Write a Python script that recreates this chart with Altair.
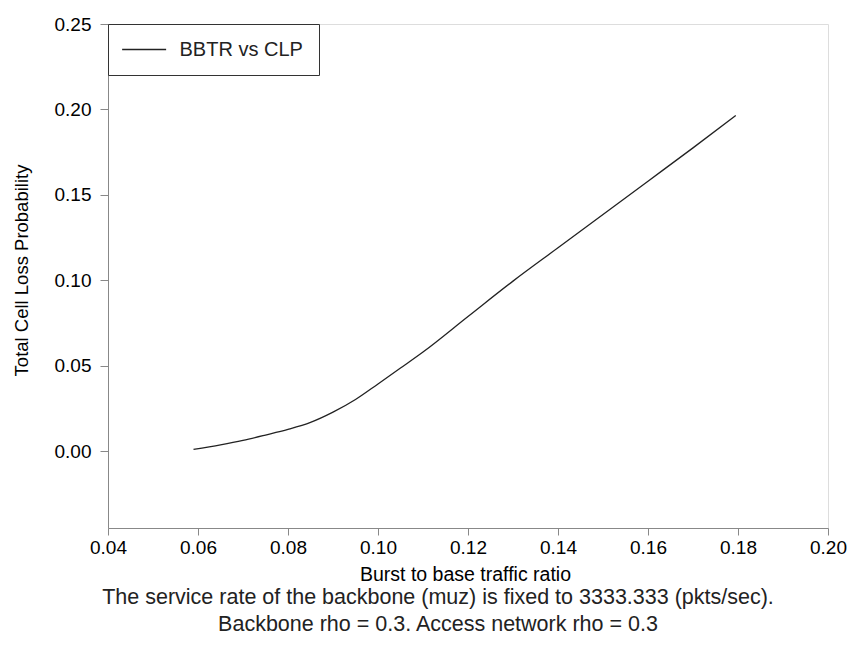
import altair as alt
import pandas as pd

# Burst-to-base traffic ratio and the resulting total cell loss probability
ratio = [0.059, 0.065, 0.070, 0.075, 0.080, 0.085, 0.090, 0.095, 0.100, 0.105,
         0.110, 0.120, 0.130, 0.140, 0.150, 0.160, 0.170, 0.1795]
clp = [0.0010, 0.0037, 0.0063, 0.0094, 0.0127, 0.0168, 0.0228, 0.0302, 0.0393, 0.0486,
       0.0580, 0.0788, 0.0995, 0.1190, 0.1385, 0.1580, 0.1775, 0.1965]
series_name = "BBTR vs CLP"

x_ticks = [0.04, 0.06, 0.08, 0.10, 0.12, 0.14, 0.16, 0.18, 0.20]
y_ticks = [0.00, 0.05, 0.10, 0.15, 0.20, 0.25]

caption = [
    "The service rate of the backbone (muz) is fixed to 3333.333 (pkts/sec).",
    "Backbone rho = 0.3. Access network rho = 0.3",
]

df = pd.DataFrame({"ratio": ratio, "clp": clp, "series": series_name})

FONT = "Liberation Sans"
INK = "#222222"

# Legend key: a short horizontal stroke drawn mostly to the right of the symbol
# anchor, so the entry row stays as tall as the label text only.
KEY_PATH = "M-1.55,0H4.45"

line = alt.Chart(df).mark_line(strokeWidth=1.3, interpolate="monotone").encode(
    x=alt.X(
        "ratio:Q",
        scale=alt.Scale(domain=[0.04, 0.20], nice=False, zero=False),
        axis=alt.Axis(
            title="Burst to base traffic ratio",
            values=x_ticks,
            format=".2f",
            grid=False,
            tickSize=7,
            labelPadding=3,
            labelFlush=False,
            labelFontSize=19,
            titleFontSize=19.5,
            titleFontWeight="normal",
            titleBaseline="alphabetic",
            titleY=52,
            titleX=357,
        ),
    ),
    y=alt.Y(
        "clp:Q",
        scale=alt.Scale(domain=[-0.045, 0.25], nice=False, zero=False),
        axis=alt.Axis(
            title="Total Cell Loss Probability",
            values=y_ticks,
            format=".2f",
            grid=False,
            tickSize=8,
            labelPadding=9,
            labelFlush=False,
            labelFontSize=19,
            titleFontSize=18.5,
            titleFontWeight="normal",
            titleBaseline="alphabetic",
            titleX=-81,
            titleY=246,
        ),
    ),
    color=alt.Color(
        "series:N",
        scale=alt.Scale(range=[INK]),
        legend=alt.Legend(
            title=None,
            orient="top-left",
            offset=0,
            padding=15.5,
            fillColor="white",
            strokeColor="#333333",
            symbolType=KEY_PATH,
            symbolSize=215,
            symbolStrokeWidth=1.3,
            labelOffset=36,
            labelFontSize=20,
            labelFont=FONT,
            labelColor=INK,
        ),
    ),
)

chart = line.properties(
    width=720,
    height=504,
    autosize=alt.AutoSizeParams(type="none"),
    padding={"left": 108, "top": 24, "right": 21, "bottom": 125},
    title=alt.TitleParams(
        text=caption,
        orient="bottom",
        anchor="middle",
        fontSize=21.5,
        font=FONT,
        fontWeight="normal",
        color=INK,
        lineHeight=27,
        offset=3,
        dx=-30,
    ),
).configure_view(
    stroke="#333333", strokeWidth=1.5
).configure_axis(
    domainColor="#333333",
    domainWidth=1.5,
    tickColor="#333333",
    tickWidth=1.5,
    labelFont=FONT,
    titleFont=FONT,
    labelColor=INK,
    titleColor=INK,
).configure(background="white")

chart.save("out.html", embed_options={"renderer": "svg", "actions": False})
